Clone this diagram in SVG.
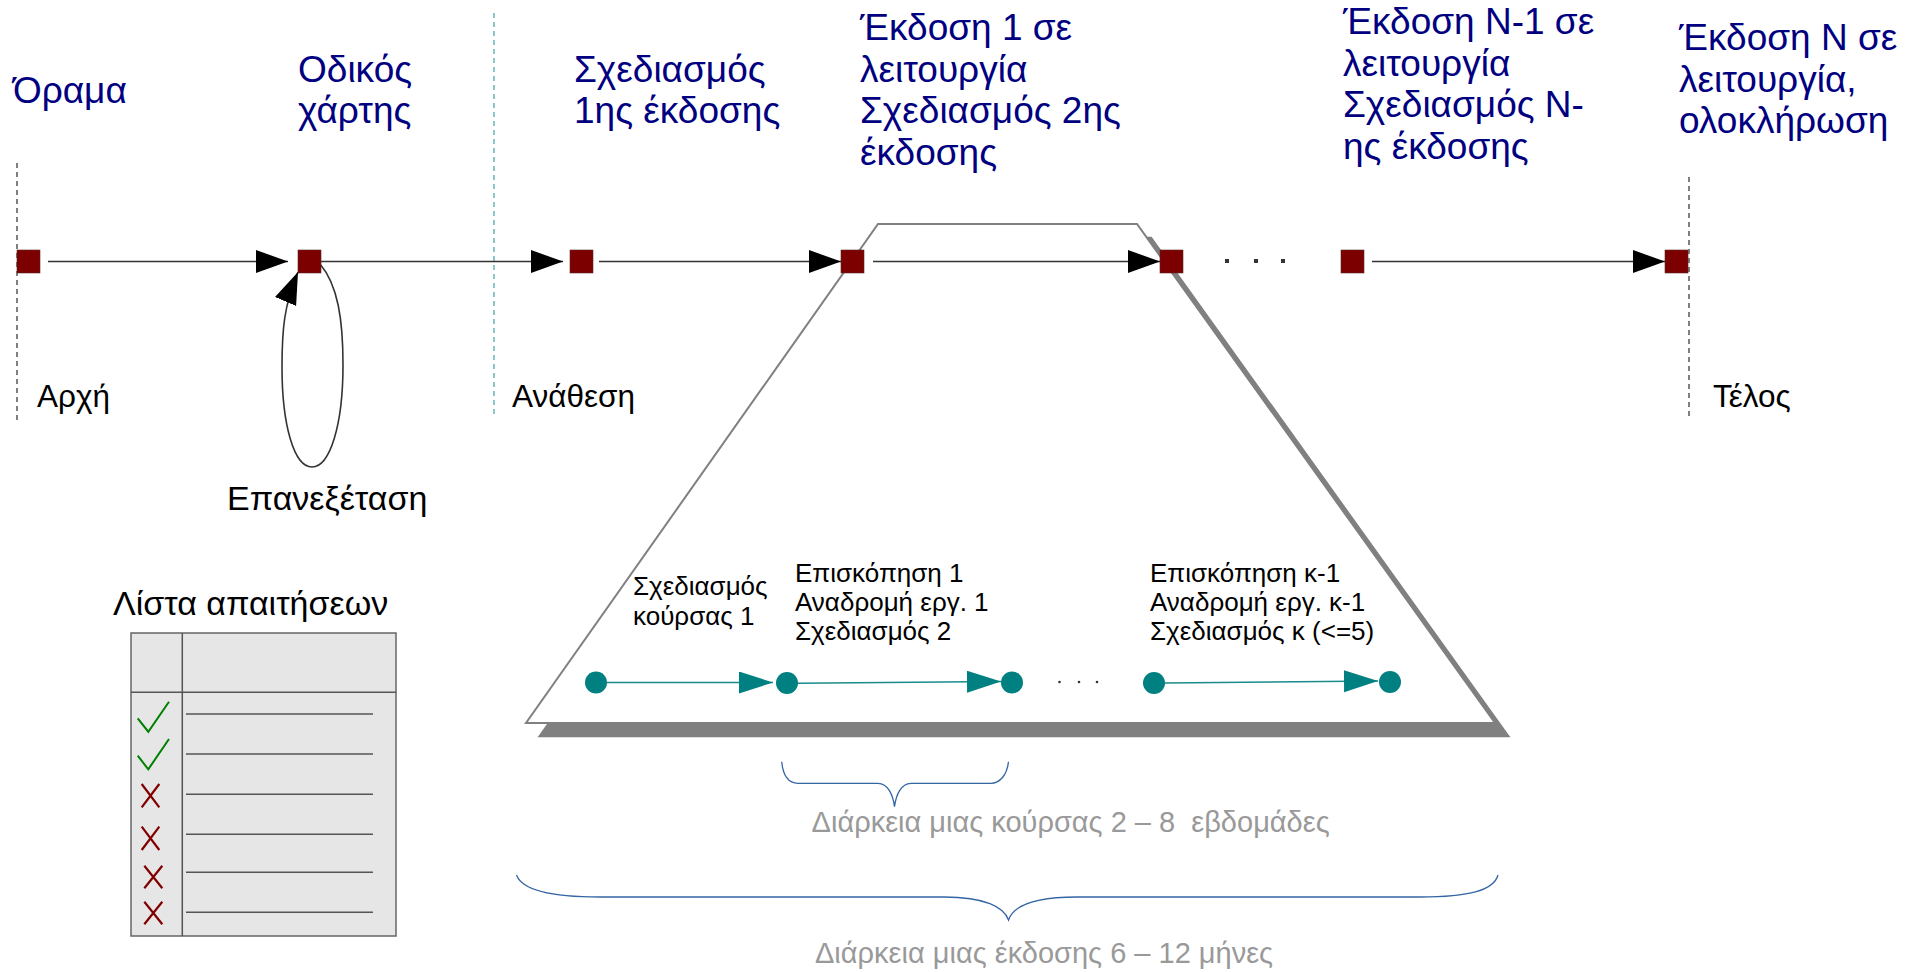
<svg xmlns="http://www.w3.org/2000/svg" width="1922" height="972" viewBox="0 0 1922 972">
<style>
text{font-family:"Liberation Sans",Arial,sans-serif}
.head{font-size:37px;fill:#000080}
.lbl{font-size:31.5px;fill:#000}
.inner{font-size:26px;fill:#000}
.grey{font-size:29px;fill:#999;white-space:pre}
.sq{fill:#7d0000;stroke:#5a2a2a;stroke-width:0.6}
.tl{stroke:#333;stroke-width:1.6;fill:none;marker-end:url(#ab)}
.tc{stroke:#1b8a8a;stroke-width:1.6;fill:none;marker-end:url(#at)}
.dot{fill:#008080}
.brace{fill:none;stroke:#3465a4;stroke-width:1.3}
.dash{stroke:#000;stroke-width:1;stroke-dasharray:5,4}
.row{stroke:#555;stroke-width:1.5}
.ck{fill:none;stroke:#008000;stroke-width:2}
.xx{stroke:#800000;stroke-width:2.2}
</style>
<defs>
<marker id="ab" markerUnits="userSpaceOnUse" markerWidth="33" markerHeight="24" refX="32" refY="11.5" orient="auto"><path d="M0,0 L32,11.5 L0,23 z" fill="#000"/></marker>
<marker id="at" markerUnits="userSpaceOnUse" markerWidth="35" markerHeight="23" refX="34" refY="11" orient="auto"><path d="M0,0 L34,11 L0,22 z" fill="#008080"/></marker>
</defs>
<rect width="1922" height="972" fill="#fff"/>

<g id="guides">
<line class="dash" x1="17" y1="163" x2="17" y2="422"/>
<line class="dash" x1="1689" y1="177" x2="1689" y2="417"/>
<line x1="494" y1="13" x2="494" y2="417" stroke="#40a0a0" stroke-width="1.2" stroke-dasharray="5,4"/>
</g>

<g id="release-trapezoid">
<polygon points="892,238 1151,238 1508,736 540,736" fill="#808080" stroke="#808080" stroke-width="2.5"/>
<polygon points="878,224 1137,224 1495,723 526,723" fill="#fff" stroke="#808080" stroke-width="2"/>
</g>

<g id="connectors">
<line class="tl" x1="48" y1="261.5" x2="288" y2="261.5"/>
<line class="tl" x1="320" y1="261.5" x2="563" y2="261.5"/>
<line class="tl" x1="599" y1="261.5" x2="841" y2="261.5"/>
<line class="tl" x1="873" y1="261.5" x2="1160" y2="261.5"/>
<line class="tl" x1="1372" y1="261.5" x2="1665" y2="261.5"/>
<path class="tl" stroke-width="2" d="M320,264 C338,285 343,320 343,365 C343,425 330,467 312,467 C294,467 282,425 282,367 C282,330 284,305 298,272"/>
<line class="tc" x1="607" y1="682.5" x2="773" y2="682.5"/>
<line class="tc" x1="798" y1="683.3" x2="1001" y2="681.5"/>
<line class="tc" x1="1165" y1="683" x2="1378" y2="681"/>
</g>

<g id="timeline-nodes">
<rect id="n-vision" class="sq" x="17" y="250" width="23" height="23"/>
<rect id="n-roadmap" class="sq" x="298" y="250" width="23" height="23"/>
<rect id="n-plan1" class="sq" x="570" y="250" width="23" height="23"/>
<rect id="n-rel1" class="sq" x="841" y="250" width="23" height="23"/>
<rect id="n-rel2" class="sq" x="1160" y="250" width="23" height="23"/>
<rect id="n-relN1" class="sq" x="1341" y="250" width="23" height="23"/>
<rect id="n-relN" class="sq" x="1665" y="250" width="23" height="23"/>
<g id="ellipsis-top" fill="#333">
<rect x="1225" y="259" width="4" height="4"/>
<rect x="1254" y="259" width="4" height="4"/>
<rect x="1281" y="259" width="4" height="4"/>
</g>
</g>

<g id="sprint-nodes">
<circle class="dot" cx="596" cy="682.5" r="11"/>
<circle class="dot" cx="787" cy="683" r="11"/>
<circle class="dot" cx="1012" cy="682.5" r="11"/>
<circle class="dot" cx="1154" cy="683" r="11"/>
<circle class="dot" cx="1390" cy="682" r="11"/>
<g fill="#333"><circle cx="1059.5" cy="682" r="1.3"/><circle cx="1079" cy="682" r="1.3"/><circle cx="1097" cy="682" r="1.3"/></g>
</g>

<g id="headings">
<text class="head" x="13" y="103">Όραμα</text>
<text class="head" x="298"><tspan x="298" y="82">Οδικός</tspan><tspan x="298" y="123">χάρτης</tspan></text>
<text class="head"><tspan x="574" y="82">Σχεδιασμός</tspan><tspan x="574" y="123">1ης έκδοσης</tspan></text>
<text class="head"><tspan x="860" y="40">Έκδοση 1 σε</tspan><tspan x="860" y="81.5">λειτουργία</tspan><tspan x="860" y="123">Σχεδιασμός 2ης</tspan><tspan x="860" y="164.5">έκδοσης</tspan></text>
<text class="head"><tspan x="1343" y="34">Έκδοση N-1 σε</tspan><tspan x="1343" y="75.5">λειτουργία</tspan><tspan x="1343" y="117">Σχεδιασμός N-</tspan><tspan x="1343" y="158.5">ης έκδοσης</tspan></text>
<text class="head"><tspan x="1679" y="50">Έκδοση N σε</tspan><tspan x="1679" y="91.5">λειτουργία,</tspan><tspan x="1679" y="133">ολοκλήρωση</tspan></text>
</g>

<g id="labels">
<text class="lbl" x="37" y="407">Αρχή</text>
<text class="lbl" x="512" y="407">Ανάθεση</text>
<text class="lbl" x="1713" y="407">Τέλος</text>
<text class="lbl" x="227" y="510" style="font-size:34px">Επανεξέταση</text>
</g>

<g id="sprint-labels">
<text class="inner"><tspan x="633" y="595">Σχεδιασμός</tspan><tspan x="633" y="624.5">κούρσας 1</tspan></text>
<text class="inner"><tspan x="795" y="581.5">Επισκόπηση 1</tspan><tspan x="795" y="610.5">Αναδρομή εργ. 1</tspan><tspan x="795" y="639.5">Σχεδιασμός 2</tspan></text>
<text class="inner"><tspan x="1150" y="581.5">Επισκόπηση κ-1</tspan><tspan x="1150" y="610.5">Αναδρομή εργ. κ-1</tspan><tspan x="1150" y="639.5">Σχεδιασμός κ (&lt;=5)</tspan></text>
</g>

<g id="requirements-list">
<text x="113" y="615" style="font-size:34px;fill:#000">Λίστα απαιτήσεων</text>
<rect x="131" y="633" width="265" height="303" fill="#e6e6e6" stroke="#666" stroke-width="1.5"/>
<line class="row" x1="182.3" y1="633" x2="182.3" y2="936"/>
<line class="row" x1="131" y1="692.3" x2="396" y2="692.3"/>
<line class="row" x1="186" y1="714" x2="373" y2="714"/>
<line class="row" x1="186" y1="754" x2="373" y2="754"/>
<line class="row" x1="186" y1="794.3" x2="373" y2="794.3"/>
<line class="row" x1="186" y1="834.3" x2="373" y2="834.3"/>
<line class="row" x1="186" y1="872.3" x2="373" y2="872.3"/>
<line class="row" x1="186" y1="912.3" x2="373" y2="912.3"/>
<polyline class="ck" points="137.7,718.3 148.3,731.7 169,701.7"/>
<polyline class="ck" points="137.7,755.7 148.3,769.3 169,739"/>
<path class="xx" d="M141.7,784 L159.3,807.3 M159.3,784 L141.7,807.3"/>
<path class="xx" d="M141.7,826.7 L159.3,850 M159.3,826.7 L141.7,850"/>
<path class="xx" d="M144.3,865.7 L162.3,888.3 M162.3,865.7 L144.3,888.3"/>
<path class="xx" d="M144.3,901.7 L162.3,924.3 M162.3,901.7 L144.3,924.3"/>
</g>

<g id="durations">
<path class="brace" d="M781.7,761.7 C783,775 788,783.3 798,783.3 L878,783.3 C888,783.3 893,795 894.5,806.7 C896,795 901,783.3 911,783.3 L990.6,783.3 C1000,783.3 1007,775 1008.5,761.7"/>
<text class="grey" x="811.6" y="832">Διάρκεια μιας κούρσας 2 – 8  εβδομάδες</text>
<path class="brace" d="M516.5,875 C522,890 550,897 600,897 L944,897 C985,897 1004,907 1008.5,920 C1013,907 1032,897 1077,897 L1420,897 C1470,897 1494,890 1498,875"/>
<text class="grey" x="815" y="963">Διάρκεια μιας έκδοσης 6 – 12 μήνες</text>
</g>
</svg>
